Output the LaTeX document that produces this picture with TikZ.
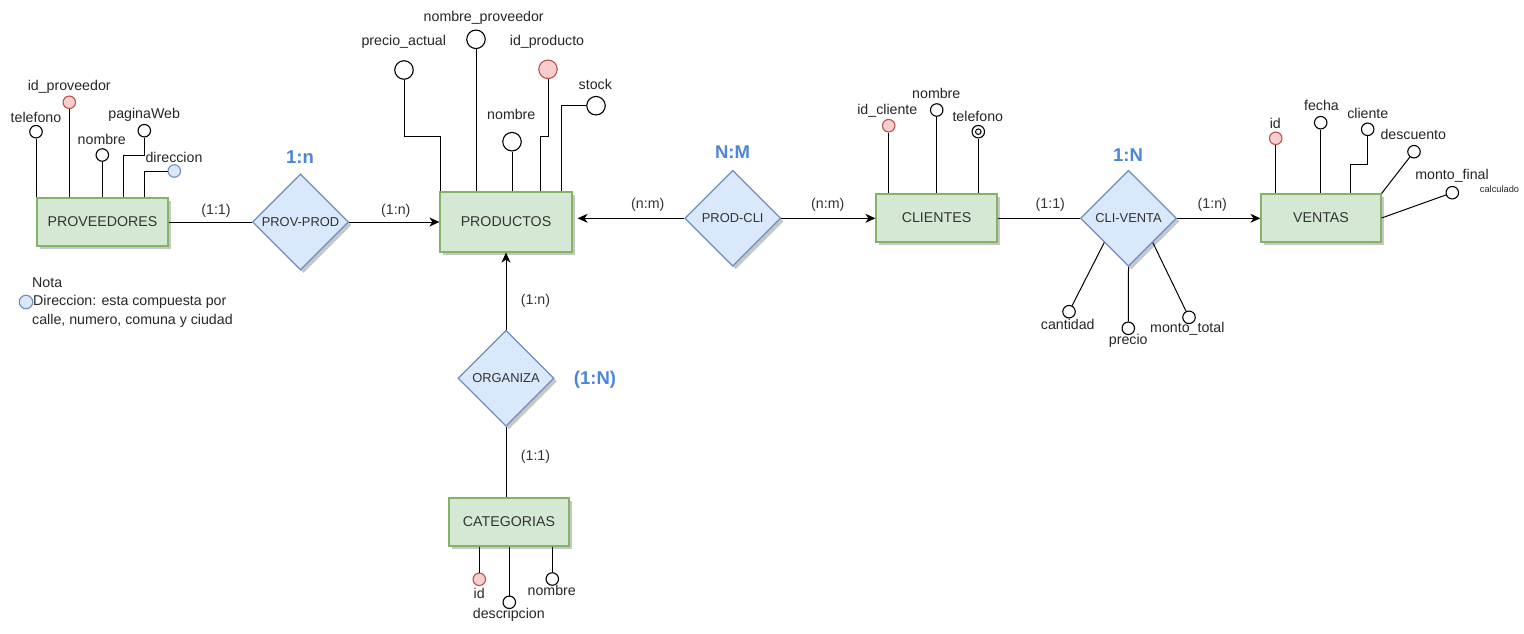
\documentclass[tikz,border=0pt]{standalone}
\usepackage{fontspec}
\setmainfont{Liberation Sans}
\usetikzlibrary{shapes.geometric,arrows.meta,shadows,calc}
\definecolor{entfill}{HTML}{D5E8D4}
\definecolor{entdraw}{HTML}{82B366}
\definecolor{relfill}{HTML}{DAE8FC}
\definecolor{reldraw}{HTML}{6C8EBF}
\definecolor{keyfill}{HTML}{F8CECC}
\definecolor{keydraw}{HTML}{B85450}
\definecolor{cardcol}{HTML}{4A86DB}
\definecolor{txt}{HTML}{333333}
\tikzset{
  shd/.style={drop shadow={shadow xshift=3pt,shadow yshift=-3pt,fill=black,opacity=0.22}},
  ent/.style={rectangle, draw=entdraw, fill=entfill, line width=1.2pt, minimum height=48pt, inner sep=0pt, font=\fontsize{14.2}{16}\selectfont, text=txt, shd},
  rel/.style={diamond, aspect=1, draw=reldraw, fill=relfill, line width=1.2pt, minimum width=96pt, minimum height=96pt, inner sep=0pt, font=\fontsize{12.9}{15}\selectfont, text=txt, shd},
  attr/.style={circle, draw=black, fill=white, line width=1.1pt, minimum size=12.5pt, inner sep=0pt},
  bigattr/.style={attr, minimum size=18.5pt},
  keyattr/.style={attr, draw=keydraw, fill=keyfill},
  compattr/.style={attr, draw=reldraw, fill=relfill},
  lbl/.style={inner sep=0pt, font=\fontsize{14.2}{16}\selectfont, text=black!85},
  elbl/.style={inner sep=0pt, font=\fontsize{14.2}{16}\selectfont, text=txt},
  smalllbl/.style={inner sep=0pt, font=\fontsize{9.3}{10}\selectfont, text=black!85},
  cardlbl/.style={inner sep=0pt, font=\fontsize{18.5}{20}\bfseries\selectfont, text=cardcol},
  conn/.style={line width=1pt, draw=black},
  arr/.style={conn, -{Stealth[length=10pt,width=9pt,inset=3pt]}}
}
\begin{document}
\begin{tikzpicture}[x=1pt,y=-1pt]
\useasboundingbox (0,0) rectangle (1524,634);
\fill[white] (0,0) rectangle (1524,634);

% ---------- entities ----------
\node[ent, minimum width=131pt] (prov) at (102.5,222) {PROVEEDORES};
\node[ent, minimum width=132pt, minimum height=60pt] (prod) at (506,222) {PRODUCTOS};
\node[ent, minimum width=121pt] (cli) at (936.5,218) {CLIENTES};
\node[ent, minimum width=120pt] (ven) at (1321,218) {VENTAS};
\node[ent, minimum width=120pt] (cat) at (509,522) {CATEGORIAS};

% ---------- relationships ----------
\node[rel] (pp) at (300.5,222) {PROV-PROD};
\node[rel] (pc) at (732.7,218.3) {PROD-CLI};
\node[rel] (cv) at (1128.5,218.3) {CLI-VENTA};
\node[rel] (org) at (506,378.3) {ORGANIZA};

\node[cardlbl] (c1) at (300,156.7) {1:n};
\node[cardlbl] (c2) at (732.5,151.7) {N:M};
\node[cardlbl] (c3) at (1128,155) {1:N};
\node[cardlbl] (c4) at (595,379.3) {(1:N)};

% ---------- relationship connectors ----------
\draw[conn] (prov.east) -- (pp.west);
\draw[arr] (pp.east) -- (prod.west);
\node[elbl] (l1) at (216,211) {(1:1)};
\node[elbl] (l2) at (395.8,211) {(1:n)};

\coordinate (prodR) at ([xshift=5pt]prod.east |- pc.west);
\draw[arr] (pc.west) -- (prodR);
\draw[arr] (pc.east) -- (cli.west |- pc.east);
\node[elbl] (l3) at (647.8,205) {(n:m)};
\node[elbl] (l4) at (827.8,205) {(n:m)};

\draw[conn] (cli.east |- cv.west) -- (cv.west);
\draw[arr] (cv.east) -- (ven.west |- cv.east);
\node[elbl] (l5) at (1050.3,205) {(1:1)};
\node[elbl] (l6) at (1212.3,205) {(1:n)};

\draw[arr] (org.north) -- (prod.south);
\draw[conn] (org.south) -- (org.south |- cat.north);
\node[elbl] (l7) at (535.5,301) {(1:n)};
\node[elbl] (l8) at (535.5,456.7) {(1:1)};

% ---------- PROVEEDORES attributes ----------
\node[attr] (ptel) at (36,131.7) {};
\node[lbl] at (36,117.7) {telefono};
\draw[conn] (ptel) -- (ptel |- prov.north);

\node[keyattr] (pid) at (69.3,102.3) {};
\node[lbl] at (69.2,86.7) {id\_proveedor};
\draw[conn] (pid) -- (pid |- prov.north);

\node[attr] (pnom) at (102.3,155) {};
\node[lbl] at (101.8,139.3) {nombre};
\draw[conn] (pnom) -- (pnom |- prov.north);

\node[attr] (pweb) at (144.3,130.7) {};
\node[lbl] at (144.2,115) {paginaWeb};
\coordinate (pwb) at (123.3,155);
\draw[conn] (pweb.south) |- (pwb) -- (pwb |- prov.north);

\node[compattr] (pdir) at (174.3,171) {};
\node[lbl] at (174,157.3) {direccion};
\coordinate (pdb) at (144.3,171);
\draw[conn] (pdir.west) -- (pdb) -- (pdb |- prov.north);

% ---------- Nota ----------
\node[lbl, anchor=west] (nota) at (32,283) {Nota};
\node[compattr, minimum size=13.5pt] (notac) at (26,302) {};
\node[lbl, anchor=west] (nota2) at (33,302) {Direccion: esta compuesta por};
\node[lbl, anchor=west] (nota3) at (32,320.5) {calle, numero, comuna y ciudad};

% ---------- PRODUCTOS attributes ----------
\node[bigattr] (prpre) at (404,70) {};
\node[lbl] at (403.8,42.3) {precio\_actual};
\coordinate (prpb) at (440,136);
\draw[conn] (prpre.south) |- (prpb) -- (prpb |- prod.north);

\node[bigattr] (prnp) at (476,39.3) {};
\node[lbl] at (483.7,18.3) {nombre\_proveedor};
\draw[conn] (prnp) -- (prnp |- prod.north);

\node[bigattr, draw=keydraw, fill=keyfill] (prid) at (548,69.3) {};
\node[lbl] at (547,42.3) {id\_producto};
\coordinate (pridb) at (540.7,136);
\draw[conn] (prid.south) |- (pridb) -- (pridb |- prod.north);

\node[bigattr] (prnom) at (512,141.7) {};
\node[lbl] at (511.3,114) {nombre};
\draw[conn] (prnom) -- (prnom |- prod.north);

\node[bigattr] (prst) at (596,105.7) {};
\node[lbl] at (595.3,84.3) {stock};
\coordinate (prstb) at (561,105.7);
\draw[conn] (prst.west) -- (prstb) -- (prstb |- prod.north);

% ---------- CLIENTES attributes ----------
\node[keyattr] (cid) at (888.7,125.7) {};
\node[lbl] at (887.3,110.7) {id\_cliente};
\draw[conn] (cid) -- (cid |- cli.north);

\node[attr] (cnom) at (936.7,110) {};
\node[lbl] at (936.3,93.3) {nombre};
\draw[conn] (cnom) -- (cnom |- cli.north);

\node[attr] (ctel) at (978.3,131.7) {};
\node[attr, minimum size=5.5pt, line width=1pt] (ctel2) at (978.3,131.7) {};
\node[lbl] at (977.8,116.7) {telefono};
\draw[conn] (ctel) -- (ctel |- cli.north);

% ---------- VENTAS attributes ----------
\node[keyattr] (vid) at (1275.7,138.3) {};
\node[lbl] at (1275.3,123.3) {id};
\draw[conn] (vid) -- (vid |- ven.north);

\node[attr] (vfe) at (1320.7,122.7) {};
\node[lbl] at (1321.5,105) {fecha};
\draw[conn] (vfe) -- (vfe |- ven.north);

\node[attr] (vcl) at (1367.7,129.3) {};
\node[lbl] at (1367.8,113.3) {cliente};
\coordinate (vclb) at (1350.7,164.3);
\draw[conn] (vcl.south) |- (vclb) -- (vclb |- ven.north);

\node[attr] (vde) at (1414,151.7) {};
\node[lbl] at (1413.3,134.3) {descuento};
\draw[conn] (ven.north east) -- (vde);

\node[attr] (vmf) at (1452.3,192.7) {};
\node[lbl] at (1452,176) {monto\_final};
\node[smalllbl] at (1499.5,189.3) {calculado};
\draw[conn] (ven.east) -- (vmf);

% ---------- CLI-VENTA attributes ----------
\node[attr] (cvc) at (1069,311.7) {};
\node[lbl] at (1067.8,324.3) {cantidad};
\draw[conn] ($(cv.west)!0.5!(cv.south)$) -- (cvc);

\node[attr] (cvp) at (1128.3,328.3) {};
\node[lbl] at (1128.3,340.7) {precio};
\draw[conn] (cv.south) -- (cvp);

\node[attr] (cvm) at (1189,317.3) {};
\node[lbl] at (1187.3,329) {monto\_total};
\draw[conn] ($(cv.east)!0.5!(cv.south)$) -- (cvm);

% ---------- CATEGORIAS attributes ----------
\node[keyattr] (kid) at (479.3,579.3) {};
\node[lbl] at (479.2,593.3) {id};
\draw[conn] (kid |- cat.south) -- (kid);

\node[attr] (kde) at (509.3,602.3) {};
\node[lbl] at (508.8,615) {descripcion};
\draw[conn] (kde |- cat.south) -- (kde);

\node[attr] (kno) at (552.3,579) {};
\node[lbl] at (551.7,590) {nombre};
\draw[conn] (kno |- cat.south) -- (kno);
\end{tikzpicture}
\end{document}
